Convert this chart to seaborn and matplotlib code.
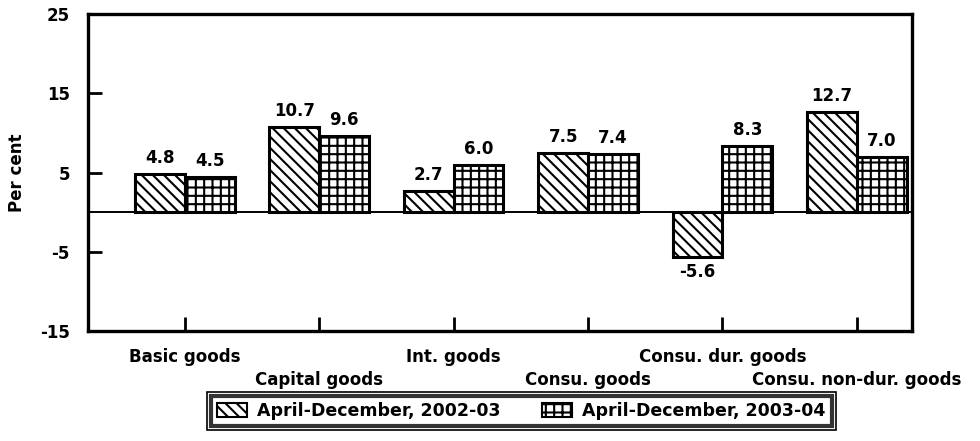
"""
Growth in industrial production by use-based category,
April-December 2002-03 vs 2003-04 (per cent).
"""

import matplotlib
matplotlib.use("Agg")
import matplotlib.pyplot as plt
import pandas as pd
import seaborn as sns
from matplotlib.patches import Patch, Rectangle

# --- Data --------------------------------------------------------------
categories = [
    "Basic goods",
    "Capital goods",
    "Int. goods",
    "Consu. goods",
    "Consu. dur. goods",
    "Consu. non-dur. goods",
]
periods = ["April-December, 2002-03", "April-December, 2003-04"]
growth_2002_03 = [4.8, 10.7, 2.7, 7.5, -5.6, 12.7]
growth_2003_04 = [4.5, 9.6, 6.0, 7.4, 8.3, 7.0]
y_ticks = [-15, -5, 5, 15, 25]

HATCHES = ["\\\\\\", "++"]

df = pd.DataFrame({
    "category": categories * 2,
    "value": growth_2002_03 + growth_2003_04,
    "period": [periods[0]] * len(categories) + [periods[1]] * len(categories),
})

# --- Style -------------------------------------------------------------
sns.set_style("white")
plt.rcParams["font.family"] = ["DejaVu Sans"]
plt.rcParams["font.weight"] = "bold"
plt.rcParams["text.color"] = "black"
plt.rcParams["axes.labelcolor"] = "black"
plt.rcParams["xtick.color"] = "black"
plt.rcParams["ytick.color"] = "black"
plt.rcParams["axes.unicode_minus"] = False
plt.rcParams["hatch.linewidth"] = 1.5
plt.rcParams["hatch.color"] = "black"

fig = plt.figure(figsize=(9.8, 4.41), dpi=100)
ax = fig.add_axes([0.0898, 0.2494, 0.8408, 0.7186])

sns.barplot(
    data=df, x="category", y="value", hue="period",
    order=categories, hue_order=periods,
    palette=["white", "white"], width=0.74, gap=0,
    edgecolor="black", linewidth=2.2, legend=False, ax=ax,
)

for container, hatch in zip(ax.containers, HATCHES):
    for bar in container:
        bar.set_hatch(hatch)
        bar.set_edgecolor("black")
        bar.set_facecolor("white")
    ax.bar_label(container, fmt="%.1f", padding=5, fontsize=12,
                 fontweight="bold", color="black")

ax.axhline(0, color="black", linewidth=1.4, zorder=0.5)

# --- Axes --------------------------------------------------------------
ax.set_ylim(-15, 25)
ax.set_yticks(y_ticks)
ax.set_xlim(-0.72, 5.41)
# staggered category labels: even ones on the major ticks, odd ones on minor
ax.set_xticks(range(0, len(categories), 2))
ax.set_xticklabels(categories[0::2], fontsize=12, fontweight="bold")
ax.set_xticks(range(1, len(categories), 2), minor=True)
ax.set_xticklabels(categories[1::2], minor=True, fontsize=12,
                   fontweight="bold")
ax.tick_params(axis="y", direction="in", length=10, width=2, pad=13,
               labelsize=12, left=True)
ax.tick_params(axis="x", which="both", direction="in", length=10, width=2,
               bottom=True)
ax.tick_params(axis="x", which="major", pad=12)
ax.tick_params(axis="x", which="minor", pad=29)
for lbl in ax.get_yticklabels():
    lbl.set_fontweight("bold")
ax.set_xlabel("")
ax.set_ylabel("Per cent", fontsize=12, fontweight="bold", labelpad=10)
for spine in ax.spines.values():
    spine.set_visible(True)
    spine.set_color("black")
    spine.set_linewidth(2.4)

# --- Legend (double frame) ---------------------------------------------
handles = [Patch(facecolor="white", edgecolor="black", linewidth=1.5,
                 hatch=h) for h in HATCHES]
leg = fig.legend(
    handles, periods, loc="center", bbox_to_anchor=(0.532, 0.068),
    ncol=2, frameon=True, fancybox=False, fontsize=12.5,
    handlelength=1.7, handleheight=0.8, handletextpad=0.6,
    columnspacing=2.4, borderpad=0.35, borderaxespad=0,
)
leg.get_frame().set_edgecolor("black")
leg.get_frame().set_linewidth(3)
for txt in leg.get_texts():
    txt.set_fontweight("bold")

fig.canvas.draw()
bb = leg.get_window_extent().transformed(fig.transFigure.inverted())
dx, dy = 4 / 980, 4 / 441
fig.patches.append(Rectangle(
    (bb.x0 - dx, bb.y0 - dy), bb.width + 2 * dx, bb.height + 2 * dy,
    transform=fig.transFigure, fill=False, edgecolor="black",
    linewidth=1.2, figure=fig,
))

fig.savefig("out.png", dpi=100)
